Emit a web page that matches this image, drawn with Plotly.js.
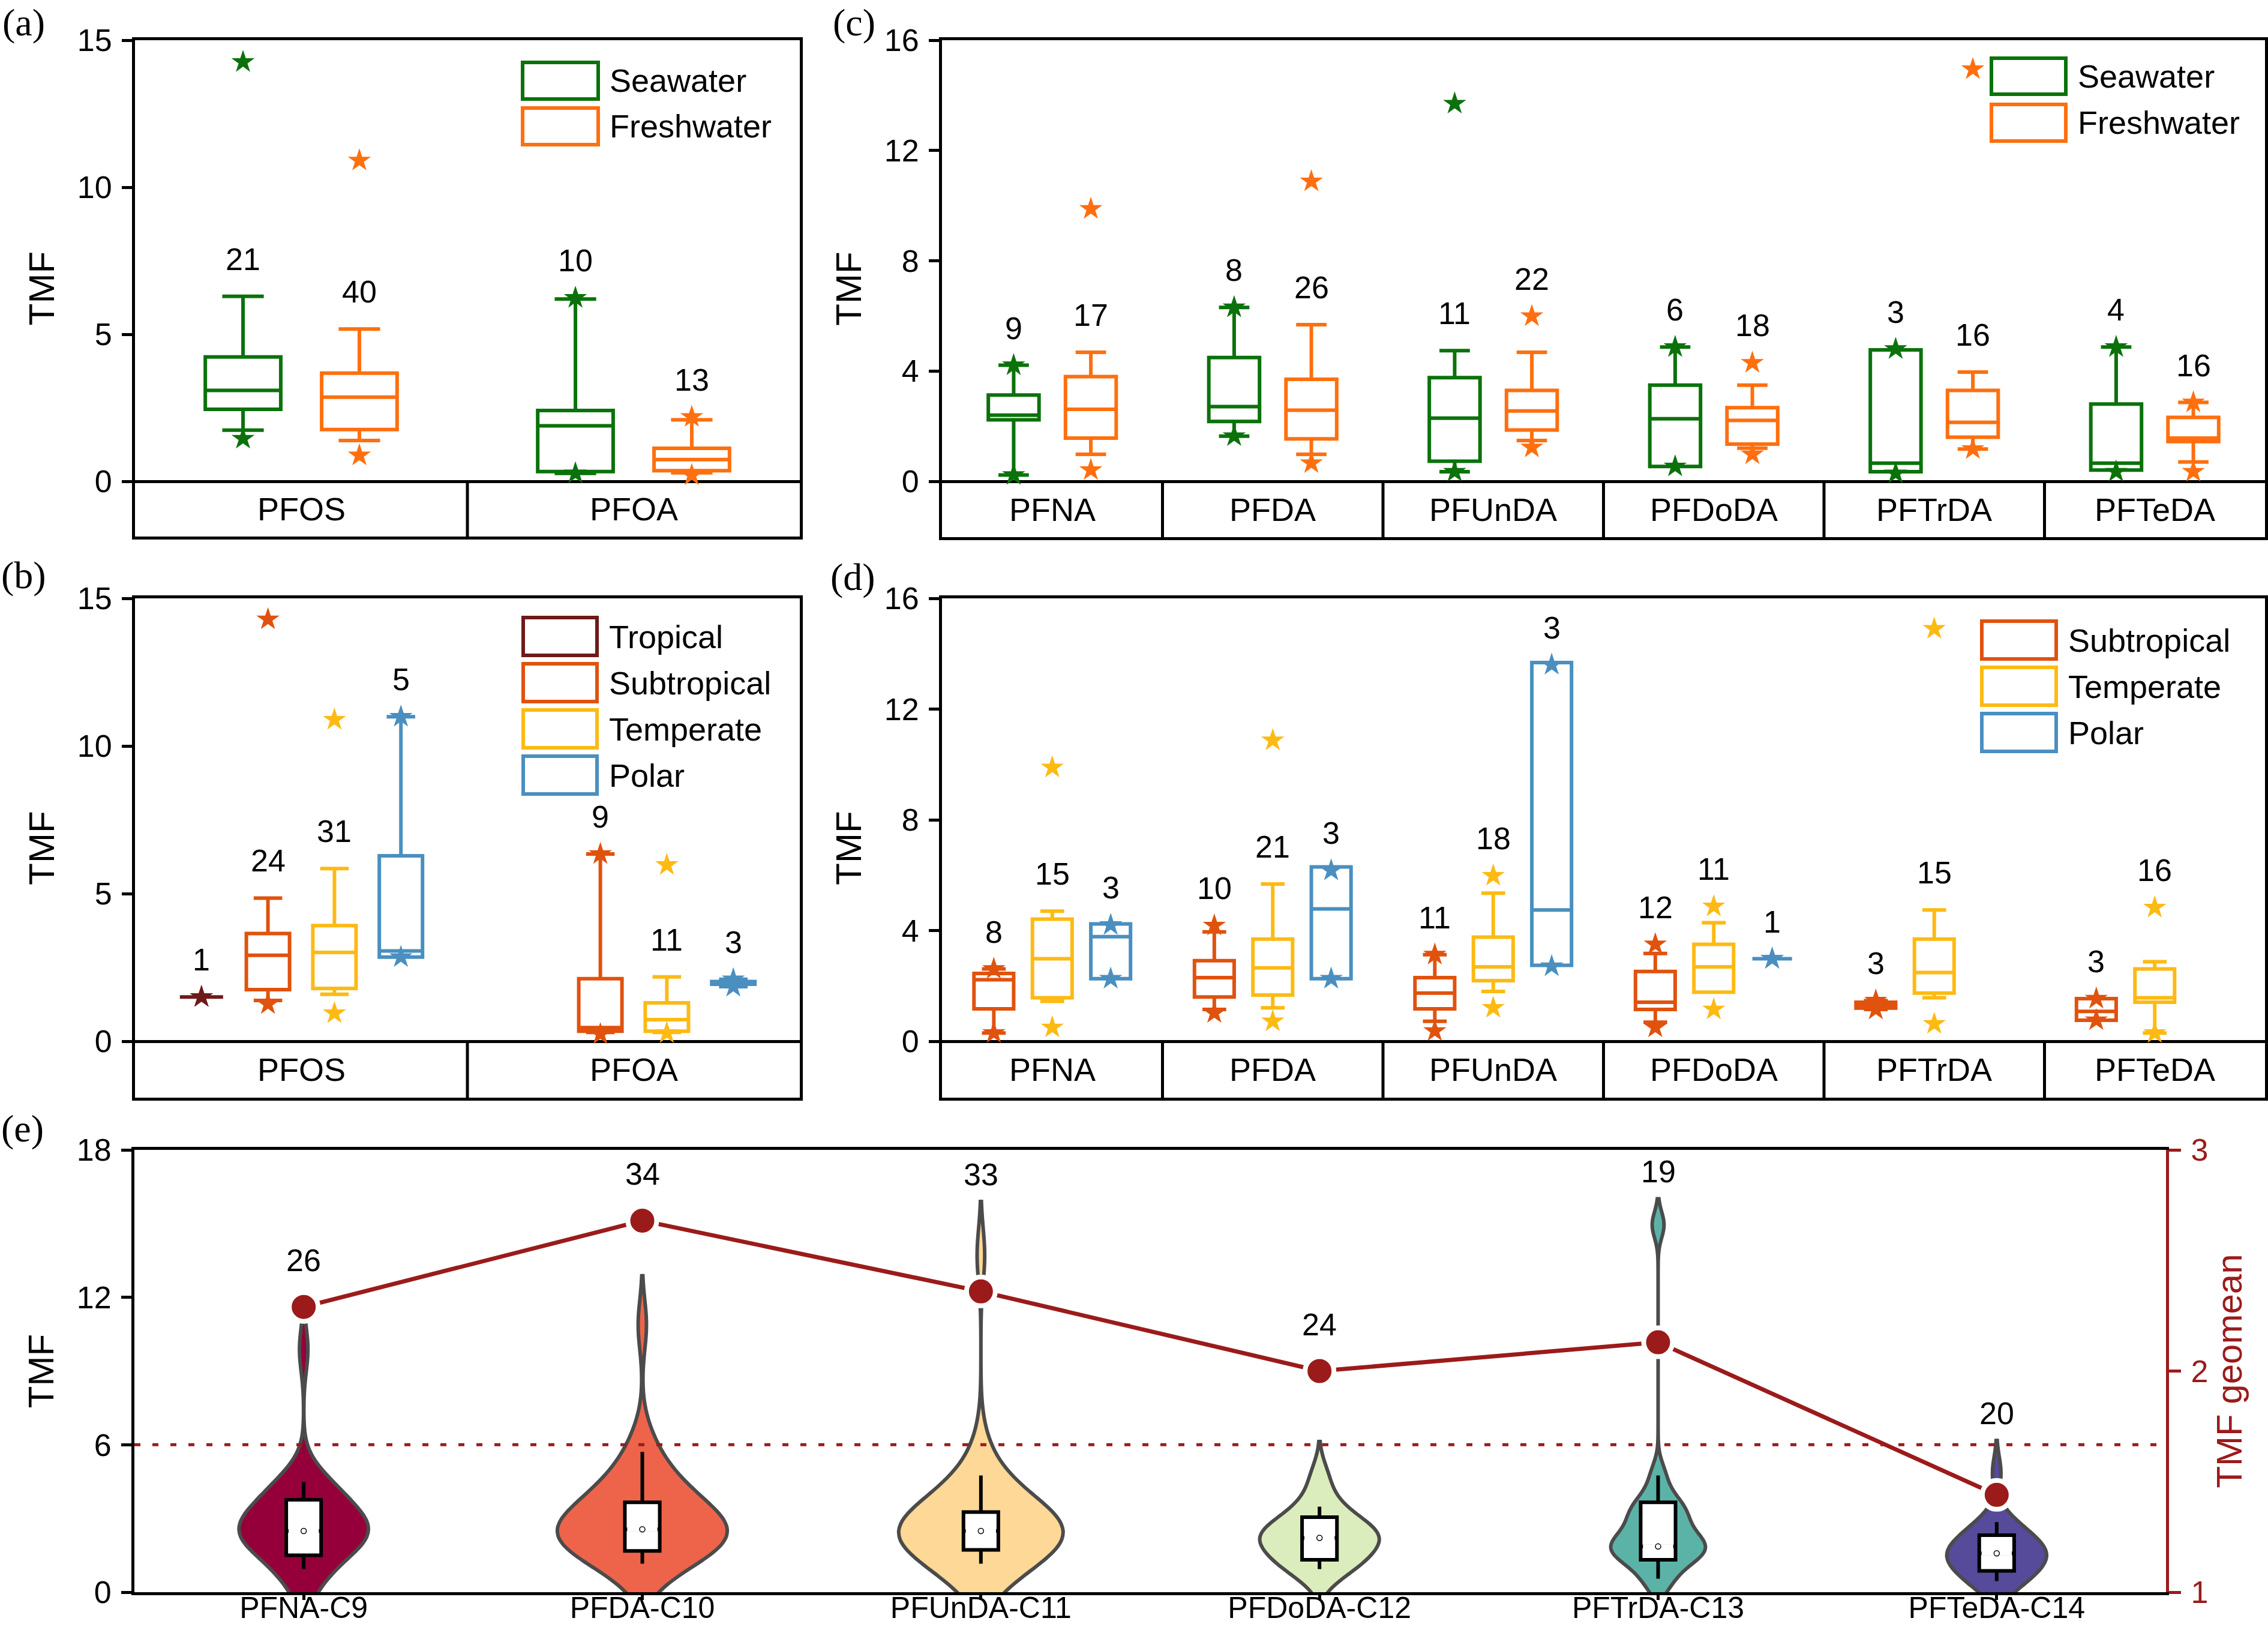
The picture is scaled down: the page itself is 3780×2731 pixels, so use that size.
<!DOCTYPE html>
<html>
<head>
<meta charset="utf-8">
<script src="https://cdn.plot.ly/plotly-3.0.1.min.js"></script>
<style>html,body{margin:0;padding:0;background:#fff}</style>
</head>
<body>
<div id="chart" style="width:3780px;height:2731px"></div>
<script>
// ================= DATA =================
const CAT_AB = ['PFOS', 'PFOA'];
const CAT_CD = ['PFNA', 'PFDA', 'PFUnDA', 'PFDoDA', 'PFTrDA', 'PFTeDA'];
const CAT_E  = ['PFNA-C9', 'PFDA-C10', 'PFUnDA-C11', 'PFDoDA-C12', 'PFTrDA-C13', 'PFTeDA-C14'];

// each row: [n, min, lower whisker, q1, median, q3, upper whisker, max]  (null = no data)
// (a) water type, PFOS / PFOA
const A_SEAWATER   = [[21, 1.45, 1.74, 2.45, 3.09, 4.23, 6.29, 14.26], [10, 0.27, 0.27, 0.33, 1.89, 2.41, 6.20, 6.24]];
const A_FRESHWATER = [[40, 0.88, 1.39, 1.76, 2.86, 3.68, 5.18, 10.91], [13, 0.21, 0.29, 0.36, 0.74, 1.12, 2.09, 2.19]];
// (b) climate zone, PFOS / PFOA
const B_TROPICAL    = [[1, 1.50, 1.50, 1.50, 1.50, 1.50, 1.50, 1.50], null];
const B_SUBTROPICAL = [[24, 1.26, 1.38, 1.75, 2.91, 3.65, 4.85, 14.29], [9, 0.24, 0.30, 0.34, 0.46, 2.12, 6.34, 6.34]];
const B_TEMPERATE   = [[31, 0.95, 1.59, 1.79, 3.01, 3.92, 5.85, 10.89], [11, 0.28, 0.30, 0.34, 0.73, 1.30, 2.18, 5.97]];
const B_POLAR       = [[5, 2.85, 2.85, 2.85, 3.06, 6.28, 10.99, 10.99], [3, 1.85, 1.85, 1.93, 1.98, 2.02, 2.10, 2.10]];
// (c) water type, long-chain PFCAs
const C_SEAWATER = [
  [9, 0.23, 0.23, 2.23, 2.40, 3.13, 4.21, 4.21],
  [8, 1.64, 1.64, 2.17, 2.71, 4.49, 6.31, 6.31],
  [11, 0.35, 0.35, 0.73, 2.29, 3.76, 4.74, 13.70],
  [6, 0.54, 0.54, 0.54, 2.27, 3.49, 4.87, 4.87],
  [3, 0.29, 0.35, 0.35, 0.66, 4.77, 4.77, 4.80],
  [4, 0.35, 0.41, 0.41, 0.66, 2.80, 4.87, 4.87]
];
const C_FRESHWATER = [
  [17, 0.41, 0.98, 1.57, 2.61, 3.80, 4.68, 9.88],
  [26, 0.66, 0.98, 1.54, 2.58, 3.70, 5.68, 10.88],
  [22, 1.23, 1.48, 1.86, 2.55, 3.30, 4.68, 5.99],
  [18, 0.98, 1.20, 1.35, 2.21, 2.67, 3.49, 4.30],
  [16, 1.17, 1.17, 1.60, 2.14, 3.30, 3.96, 14.95],
  [16, 0.35, 0.70, 1.44, 1.57, 2.32, 2.86, 2.86]
];
// (d) climate zone, long-chain PFCAs
const D_SUBTROPICAL = [
  [8, 0.30, 0.30, 1.17, 2.22, 2.45, 2.61, 2.61],
  [10, 1.02, 1.15, 1.60, 2.30, 2.91, 3.95, 4.18],
  [11, 0.37, 0.72, 1.17, 1.74, 2.30, 3.13, 3.13],
  [12, 0.50, 0.69, 1.15, 1.41, 2.52, 3.17, 3.50],
  [3, 1.15, 1.15, 1.20, 1.30, 1.41, 1.47, 1.47],
  [3, 0.76, 0.76, 0.76, 1.08, 1.54, 1.54, 1.54]
];
const D_TEMPERATE = [
  [15, 0.50, 1.44, 1.57, 2.98, 4.41, 4.70, 9.89],
  [21, 0.72, 1.21, 1.67, 2.65, 3.69, 5.68, 10.87],
  [18, 1.21, 1.80, 2.19, 2.69, 3.76, 5.35, 5.98],
  [11, 1.15, 1.77, 1.77, 2.69, 3.50, 4.28, 4.87],
  [15, 0.63, 1.57, 1.74, 2.48, 3.69, 4.74, 14.90],
  [16, 0.30, 0.30, 1.41, 1.57, 2.61, 2.87, 4.83]
];
const D_POLAR = [
  [3, 2.26, 2.26, 2.26, 3.78, 4.24, 4.24, 4.20],
  [3, 2.26, 2.26, 2.26, 4.78, 6.30, 6.30, 6.17],
  [3, 2.71, 2.74, 2.74, 4.74, 13.68, 13.68, 13.60],
  [1, 2.98, 2.98, 2.98, 2.98, 2.98, 2.98, 2.98],
  null,
  null
];
// (e) pooled TMF samples per compound (read/estimated from the figure)
const E_PFNA   = [0.23, 2.2, 2.3, 2.35, 2.4, 2.6, 3.1, 3.2, 4.21, 0.41, 0.98, 1.35, 1.57, 1.7, 2.0, 2.3, 2.5, 2.61, 2.9, 3.2, 3.6, 3.8, 4.1, 4.4, 4.68, 9.88];
const E_PFDA   = [1.64, 2.1, 2.4, 2.7, 2.75, 3.9, 4.6, 6.31, 0.66, 0.98, 1.2, 1.4, 1.54, 1.6, 1.8, 2.0, 2.2, 2.3, 2.45, 2.5, 2.58, 2.6, 2.8, 3.0, 3.2, 3.4, 3.6, 3.7, 3.9, 4.2, 4.6, 5.1, 5.68, 10.88];
const E_PFUnDA = [0.35, 0.6, 0.73, 1.2, 1.9, 2.29, 2.8, 3.3, 3.76, 4.74, 13.7, 1.23, 1.48, 1.6, 1.75, 1.86, 1.95, 2.1, 2.25, 2.4, 2.5, 2.55, 2.6, 2.7, 2.85, 3.0, 3.1, 3.3, 3.5, 3.9, 4.3, 4.68, 5.99];
const E_PFDoDA = [0.54, 0.9, 2.1, 2.45, 3.49, 4.87, 0.98, 1.2, 1.3, 1.35, 1.5, 1.7, 1.9, 2.1, 2.2, 2.22, 2.35, 2.5, 2.6, 2.67, 2.9, 3.2, 3.49, 4.3];
const E_PFTrDA = [0.29, 0.66, 4.8, 1.17, 1.4, 1.55, 1.6, 1.7, 1.9, 2.05, 2.14, 2.3, 2.6, 2.9, 3.2, 3.3, 3.6, 3.96, 14.95];
const E_PFTeDA = [0.35, 0.5, 0.8, 4.87, 0.35, 0.7, 1.0, 1.3, 1.44, 1.5, 1.55, 1.57, 1.6, 1.7, 1.9, 2.1, 2.32, 2.5, 2.7, 2.86];
// inner box of (e): [lower whisker, q1, median, q3, upper whisker]
const E_BOX = [
  [0.94, 1.50, 2.49, 3.76, 4.49],
  [1.16, 1.68, 2.56, 3.66, 5.71],
  [1.16, 1.72, 2.49, 3.26, 4.75],
  [0.94, 1.32, 2.21, 3.05, 3.48],
  [0.55, 1.32, 1.86, 3.66, 4.75],
  [0.45, 0.87, 1.58, 2.32, 2.85]
];
const E_N = [26, 34, 33, 24, 19, 20];
const E_GEOMEAN = [2.29, 2.68, 2.36, 2.00, 2.13, 1.44];
const TMF_THRESHOLD = 6;

// ================= STYLE =================
const W = 3780, H = 2731;
const FONT = 'Liberation Sans, Arial, sans-serif';
const SERIF = 'Liberation Serif, Times New Roman, serif';
const COLORS = {
  Seawater: '#0B720B', Freshwater: '#FF6F0F',
  Tropical: '#6E1A1A', Subtropical: '#E0520E', Temperate: '#FDBA13', Polar: '#4A8FC0'
};
const E_FILL = ['#95003A', '#EE644A', '#FDD896', '#DCEDBD', '#5BB3A8', '#564A9B'];
const DARKRED = '#9B1B1B';
const px2x = p => p / W;
const px2y = p => 1 - p / H;

const traces = [], annotations = [], shapes = [];
const layout = {
  width: W, height: H,
  margin: {l: 0, r: 0, t: 0, b: 0},
  paper_bgcolor: 'white', plot_bgcolor: 'white',
  showlegend: false,
  font: {family: FONT, size: 52, color: 'black'},
  boxmode: 'overlay', violinmode: 'overlay',
  hovermode: false
};

function addBoxPanel(cfg) {
  const xn = cfg.xa.slice(1), yn = cfg.ya.slice(1);
  const [top, zero, bottom] = cfg.yPx;
  const pxPerUnit = (zero - top) / cfg.ymax;
  const yBottom = -(bottom - zero) / pxPerUnit;
  layout['xaxis' + xn] = {
    domain: [px2x(cfg.xPx[0]), px2x(cfg.xPx[1])], anchor: cfg.ya,
    range: [-0.5, cfg.cats.length - 0.5], showticklabels: false, ticks: '',
    showgrid: false, zeroline: false, showline: true, mirror: true,
    linecolor: 'black', linewidth: 5
  };
  layout['yaxis' + yn] = {
    domain: [px2y(bottom), px2y(top)], anchor: cfg.xa,
    range: [yBottom, cfg.ymax], tickvals: cfg.tickvals,
    ticks: 'outside', ticklen: 17, tickwidth: 5, tickcolor: 'black',
    ticklabelstandoff: 6,
    tickfont: {family: FONT, size: 52, color: 'black'},
    showgrid: false, zeroline: true, zerolinecolor: 'black', zerolinewidth: 5,
    showline: true, mirror: true, linecolor: 'black', linewidth: 5,
    title: {text: 'TMF', font: {family: FONT, size: 60, color: 'black'}, standoff: 20}
  };
  // category band: dividers + labels
  cfg.cats.forEach((c, i) => {
    annotations.push({xref: cfg.xa, yref: cfg.ya, x: i, y: yBottom / 2, text: c,
      showarrow: false, xanchor: 'center', yanchor: 'middle',
      font: {family: FONT, size: 54, color: 'black'}});
    if (i < cfg.cats.length - 1) {
      shapes.push({type: 'line', xref: cfg.xa, yref: cfg.ya, x0: i + 0.5, x1: i + 0.5,
        y0: yBottom, y1: 0, line: {color: 'black', width: 5}});
    }
  });
  cfg.series.forEach((s, k) => {
    const color = COLORS[s.name];
    const xs = [], q1 = [], med = [], q3 = [], lo = [], hi = [], sx = [], sy = [];
    s.rows.forEach((r, i) => {
      if (!r) return;
      const [n, mn, l, a, m, b, h, mx] = r;
      const x = i + cfg.offsets[k];
      xs.push(x); q1.push(a); med.push(m); q3.push(b); lo.push(l); hi.push(h);
      sx.push(x, x); sy.push(mn, mx);
      const topVal = (mx - h < 3) ? mx : h;
      annotations.push({xref: cfg.xa, yref: cfg.ya, x: x, y: topVal, text: String(n),
        showarrow: false, xanchor: 'center', yanchor: 'middle', yshift: 62,
        font: {family: FONT, size: 52, color: 'black'}});
    });
    traces.push({type: 'box', name: s.name, x: xs, q1: q1, median: med, q3: q3,
      lowerfence: lo, upperfence: hi, width: cfg.boxW, whiskerwidth: cfg.capFrac,
      fillcolor: 'rgba(255,255,255,0)', line: {color: color, width: 6},
      boxpoints: false, xaxis: cfg.xa, yaxis: cfg.ya, showlegend: false});
    traces.push({type: 'scatter', mode: 'markers', name: s.name + ' min/max', x: sx, y: sy,
      marker: {symbol: 'star', size: 29, color: color, line: {width: 0}},
      xaxis: cfg.xa, yaxis: cfg.ya, showlegend: false, cliponaxis: false});
    // legend entry
    const [ly0, ly1] = cfg.legend.rows[k];
    shapes.push({type: 'rect', xref: 'paper', yref: 'paper',
      x0: px2x(cfg.legend.x[0]), x1: px2x(cfg.legend.x[1]), y0: px2y(ly1), y1: px2y(ly0),
      line: {color: color, width: 6}, fillcolor: 'rgba(0,0,0,0)'});
    annotations.push({xref: 'paper', yref: 'paper', x: px2x(cfg.legend.textX), y: px2y((ly0 + ly1) / 2),
      text: s.name, showarrow: false, xanchor: 'left', yanchor: 'middle',
      font: {family: FONT, size: 54, color: 'black'}});
  });
}

addBoxPanel({xa: 'x', ya: 'y', cats: CAT_AB, xPx: [225, 1333], yPx: [67, 802, 894], ymax: 15,
  tickvals: [0, 5, 10, 15], offsets: [-0.175, 0.175], boxW: 0.227, capFrac: 0.55,
  series: [{name: 'Seawater', rows: A_SEAWATER}, {name: 'Freshwater', rows: A_FRESHWATER}],
  legend: {x: [871, 997], rows: [[104, 165], [180, 241]], textX: 1014}});

addBoxPanel({xa: 'x2', ya: 'y2', cats: CAT_CD, xPx: [1570, 3775], yPx: [67, 802, 895], ymax: 16,
  tickvals: [0, 4, 8, 12, 16], offsets: [-0.175, 0.175], boxW: 0.23, capFrac: 0.6,
  series: [{name: 'Seawater', rows: C_SEAWATER}, {name: 'Freshwater', rows: C_FRESHWATER}],
  legend: {x: [3319, 3443], rows: [[97, 157], [174, 235]], textX: 3461}});

addBoxPanel({xa: 'x3', ya: 'y3', cats: CAT_AB, xPx: [225, 1333], yPx: [997, 1735, 1829], ymax: 15,
  tickvals: [0, 5, 10, 15], offsets: [-0.3, -0.1, 0.1, 0.3], boxW: 0.13, capFrac: 0.66,
  series: [{name: 'Tropical', rows: B_TROPICAL}, {name: 'Subtropical', rows: B_SUBTROPICAL},
           {name: 'Temperate', rows: B_TEMPERATE}, {name: 'Polar', rows: B_POLAR}],
  legend: {x: [872, 995], rows: [[1029, 1092], [1106, 1169], [1183, 1246], [1260, 1323]], textX: 1013}});

addBoxPanel({xa: 'x4', ya: 'y4', cats: CAT_CD, xPx: [1570, 3775], yPx: [997, 1735, 1829], ymax: 16,
  tickvals: [0, 4, 8, 12, 16], offsets: [-0.265, 0, 0.265], boxW: 0.18, capFrac: 0.6,
  series: [{name: 'Subtropical', rows: D_SUBTROPICAL}, {name: 'Temperate', rows: D_TEMPERATE},
           {name: 'Polar', rows: D_POLAR}],
  legend: {x: [3303, 3427], rows: [[1035, 1098], [1112, 1175], [1189, 1252]], textX: 3445}});

// ================= PANEL (e) =================
const E_SAMPLES = [E_PFNA, E_PFDA, E_PFUnDA, E_PFDoDA, E_PFTrDA, E_PFTeDA];
const E_BW = [0.9, 1.0, 1.1, 0.63, 0.53, 0.65];
const maxN = Math.max(...E_N);
const Y5MAX = 18, Y6 = [1, 3];
const E_TOP = 1916, E_ZERO = 2653;
const E_PX_PER_UNIT = (E_ZERO - E_TOP) / Y5MAX;
layout.xaxis5 = {
  domain: [px2x(224), px2x(3610)], anchor: 'y5', type: 'category',
  range: [-0.5, CAT_E.length - 0.5], ticks: 'outside', ticklen: 8, tickwidth: 5, tickcolor: 'black',
  tickfont: {family: FONT, size: 50, color: 'black'}, ticklabelstandoff: -30,
  showgrid: false, zeroline: false, showline: true, mirror: true, linecolor: 'black', linewidth: 5
};
layout.yaxis5 = {
  domain: [px2y(E_ZERO), px2y(E_TOP)], anchor: 'x5', range: [0, Y5MAX], tickvals: [0, 6, 12, 18],
  ticks: 'outside', ticklen: 17, tickwidth: 5, tickcolor: 'black', ticklabelstandoff: 6,
  tickfont: {family: FONT, size: 52, color: 'black'},
  showgrid: false, zeroline: false, showline: true, linecolor: 'black', linewidth: 5,
  title: {text: 'TMF', font: {family: FONT, size: 60, color: 'black'}, standoff: 20}
};
layout.yaxis6 = {
  overlaying: 'y5', side: 'right', anchor: 'x5', range: Y6, tickvals: [1, 2, 3],
  ticks: 'outside', ticklen: 20, tickwidth: 5, tickcolor: DARKRED, ticklabelstandoff: 6,
  tickfont: {family: FONT, size: 52, color: DARKRED},
  showgrid: false, zeroline: false, showline: true, linecolor: DARKRED, linewidth: 5,
  title: {text: 'TMF geomean', font: {family: FONT, size: 60, color: DARKRED}, standoff: 16}
};

E_SAMPLES.forEach((d, i) => {
  traces.push({type: 'violin', name: CAT_E[i], x: d.map(() => CAT_E[i]), y: d,
    xaxis: 'x5', yaxis: 'y5', bandwidth: E_BW[i], spanmode: 'soft', scalemode: 'width',
    width: 0.5 * E_N[i] / maxN, points: false, box: {visible: false}, meanline: {visible: false},
    fillcolor: E_FILL[i], line: {color: '#4B4B4B', width: 6}, opacity: 1, showlegend: false});
});
traces.push({type: 'box', name: 'inner box', x: CAT_E,
  lowerfence: E_BOX.map(r => r[0]), q1: E_BOX.map(r => r[1]), median: E_BOX.map(r => r[2]),
  q3: E_BOX.map(r => r[3]), upperfence: E_BOX.map(r => r[4]),
  width: 0.103, whiskerwidth: 0, fillcolor: 'white', line: {color: 'black', width: 6},
  boxpoints: false, xaxis: 'x5', yaxis: 'y5', showlegend: false});
// median mark drawn as a small open circle (as in the original)
traces.push({type: 'scatter', mode: 'markers', x: CAT_E, y: E_BOX.map(r => r[2]),
  marker: {symbol: 'line-ew', size: 36, line: {color: 'white', width: 7}},
  xaxis: 'x5', yaxis: 'y5', showlegend: false});
traces.push({type: 'scatter', mode: 'markers', x: CAT_E, y: E_BOX.map(r => r[2]),
  marker: {symbol: 'circle-open', size: 9, color: 'black', line: {color: 'black', width: 1.5}},
  xaxis: 'x5', yaxis: 'y5', showlegend: false});
traces.push({type: 'scatter', mode: 'lines+markers', name: 'TMF geomean', x: CAT_E, y: E_GEOMEAN,
  xaxis: 'x5', yaxis: 'y6', line: {color: DARKRED, width: 7},
  marker: {size: 48, color: DARKRED, line: {color: 'white', width: 8}}, showlegend: false, cliponaxis: false});

shapes.push({type: 'line', xref: 'x5 domain', yref: 'y5', x0: 0, x1: 1, y0: TMF_THRESHOLD, y1: TMF_THRESHOLD,
  line: {color: DARKRED, width: 5, dash: '10px,20px'}, layer: 'above'});

// sample-size labels above each violin / geomean point
E_N.forEach((n, i) => {
  const dotTMF = (E_GEOMEAN[i] - Y6[0]) * Y5MAX / (Y6[1] - Y6[0]);
  const tip = Math.max(...E_SAMPLES[i]) + 2 * E_BW[i];
  const yLab = Math.max(tip + 45 / E_PX_PER_UNIT, dotTMF + 78 / E_PX_PER_UNIT);
  annotations.push({xref: 'x5', yref: 'y5', x: CAT_E[i], y: yLab, text: String(n),
    showarrow: false, xanchor: 'center', yanchor: 'middle',
    font: {family: FONT, size: 52, color: 'black'}});
});

// panel letters
[['(a)', 2, 0], ['(c)', 1386, 0], ['(b)', 0, 921], ['(d)', 1382, 924], ['(e)', 0, 1843]].forEach(([t, x, y]) => {
  annotations.push({xref: 'paper', yref: 'paper', x: px2x(x), y: px2y(y), text: t, showarrow: false,
    xanchor: 'left', yanchor: 'top', font: {family: SERIF, size: 64, color: 'black'}});
});

layout.annotations = annotations;
layout.shapes = shapes;
Plotly.newPlot('chart', traces, layout, {staticPlot: true});
</script>
</body>
</html>
